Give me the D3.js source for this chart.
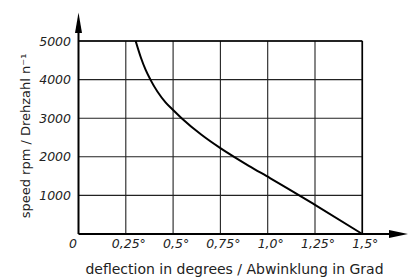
<!DOCTYPE html>
<html><head><meta charset="utf-8">
<script src="https://cdn.jsdelivr.net/npm/d3@7"></script>
<style>body{margin:0;background:#fff}svg{display:block}</style>
</head><body>
<script>
const deflection = [0.302, 0.330, 0.355, 0.380, 0.46, 0.496, 0.545, 0.65, 0.748, 0.818, 0.90, 1.012, 1.171, 1.25, 1.50];
const rpm =        [5000, 4566, 4250, 4000, 3410, 3230, 3000, 2570, 2230, 2010, 1766, 1450, 990, 755, 0];
const xTicks = [0.25, 0.5, 0.75, 1.0, 1.25, 1.5];
const xTickLabels = ["0,25°", "0,5°", "0,75°", "1,0°", "1,25°", "1,5°"];
const yTicks = [1000, 2000, 3000, 4000, 5000];
const yTickLabels = ["1000", "2000", "3000", "4000", "5000"];
const xTitle = "deflection in degrees / Abwinklung in Grad";
const yTitle = "speed rpm / Drehzahl n⁻¹";

const W = 414, H = 278;
const svg = d3.select("body").append("svg").attr("width", W).attr("height", H);
const x = d3.scaleLinear().domain([0, 1.5]).range([78.5, 362.3]);
const y = d3.scaleLinear().domain([0, 5000]).range([234, 41]);

// grid
const g = svg.append("g");
g.selectAll("line.vx").data(xTicks).join("line")
  .attr("x1", d => x(d)).attr("x2", d => x(d)).attr("y1", y(0)).attr("y2", y(5000))
  .attr("stroke", "#222").attr("stroke-width", 1.1);
g.selectAll("line.hy").data(yTicks).join("line")
  .attr("x1", x(0)).attr("x2", x(1.5)).attr("y1", d => y(d)).attr("y2", d => y(d))
  .attr("stroke", "#222").attr("stroke-width", 1.1);
g.append("line").attr("x1", x(0)).attr("x2", x(1.5)).attr("y1", y(5000)).attr("y2", y(5000)).attr("stroke", "#000").attr("stroke-width", 1.6);
g.append("line").attr("x1", x(1.5)).attr("x2", x(1.5)).attr("y1", y(0)).attr("y2", y(5000)).attr("stroke", "#000").attr("stroke-width", 1.6);

// axes with arrows
svg.append("line").attr("x1", x(0)).attr("x2", 392).attr("y1", y(0)).attr("y2", y(0)).attr("stroke", "#000").attr("stroke-width", 2);
svg.append("path").attr("d", `M408,${y(0)} L389,${y(0)-4} L389,${y(0)+4} Z`).attr("fill", "#000");
svg.append("line").attr("x1", x(0)).attr("x2", x(0)).attr("y1", y(0)).attr("y2", 30).attr("stroke", "#000").attr("stroke-width", 2);
svg.append("path").attr("d", `M${x(0)},12.5 L${x(0)-3.5},33 L${x(0)+3.5},33 Z`).attr("fill", "#000");

// curve
const pts = deflection.map((d, i) => [d, rpm[i]]);
svg.append("path").datum(pts)
  .attr("d", d3.line().x(d => x(d[0])).y(d => y(d[1])).curve(d3.curveMonotoneX))
  .attr("fill", "none").attr("stroke", "#000").attr("stroke-width", 2);

const tickFont = "'DejaVu Sans', sans-serif";
svg.selectAll("text.yt").data(yTicks).join("text")
  .attr("x", 71).attr("y", d => y(d) + 4.5).attr("text-anchor", "end")
  .attr("font-family", tickFont).attr("font-style", "italic").attr("font-size", 12.5)
  .attr("fill", "#222").text((d, i) => yTickLabels[i]);
svg.selectAll("text.xt").data(xTicks).join("text")
  .attr("x", d => x(d) + 3).attr("y", 247.5).attr("text-anchor", "middle")
  .attr("font-family", tickFont).attr("font-style", "italic").attr("font-size", 12.5)
  .attr("fill", "#222").text((d, i) => xTickLabels[i]);
svg.append("text").attr("x", 73).attr("y", 247.5).attr("text-anchor", "middle")
  .attr("font-family", tickFont).attr("font-style", "italic").attr("font-size", 12.5)
  .attr("fill", "#222").text("0");

svg.append("text").attr("x", 234.5).attr("y", 274).attr("text-anchor", "middle")
  .attr("font-family", "'DejaVu Sans', sans-serif").attr("font-size", 14).attr("fill", "#222").text(xTitle);
svg.append("text").attr("transform", "translate(30,136) rotate(-90)").attr("text-anchor", "middle")
  .attr("font-family", "'DejaVu Sans', sans-serif").attr("font-size", 13).attr("fill", "#222").text(yTitle);
</script>
</body></html>
